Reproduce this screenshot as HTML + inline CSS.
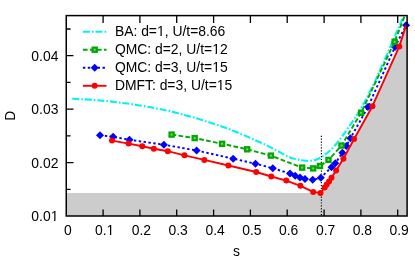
<!DOCTYPE html>
<html><head><meta charset="utf-8"><title>plot</title>
<style>
html,body{margin:0;padding:0;background:#fff;}
body{width:415px;height:261px;overflow:hidden;font-family:"Liberation Sans",sans-serif;}
svg{display:block;will-change:transform;opacity:0.999;}
text{font-family:"Liberation Sans",sans-serif;font-size:13.9px;fill:#000;}
</style></head><body>
<svg width="415" height="261" viewBox="0 0 415 261">
<defs><clipPath id="c"><rect x="66" y="15.5" width="341" height="200.8"/></clipPath></defs>
<rect width="415" height="261" fill="#fff"/>
<polygon points="66.2,193.0 320.7,193.0 324.7,187.5 326.7,184.6 329.0,181.6 331.5,177.8 336.1,170.4 343.4,158.7 354.1,139.0 372.4,106.2 399.3,46.4 406.1,25.4 407.1,25.2 407.1,216.0 66.2,216.0" fill="#cccccc" clip-path="url(#c)"/>
<path d="M103.1,216.0 v-6.6 M103.1,15.6 v7.3 M139.9,216.0 v-6.6 M139.9,15.6 v7.3 M176.7,216.0 v-6.6 M176.7,15.6 v7.3 M213.6,216.0 v-6.6 M213.6,15.6 v7.3 M250.4,216.0 v-6.6 M250.4,15.6 v7.3 M287.2,216.0 v-6.6 M287.2,15.6 v7.3 M324.1,216.0 v-6.6 M324.1,15.6 v7.3 M360.9,216.0 v-6.6 M360.9,15.6 v7.3 M397.7,216.0 v-6.6 M397.7,15.6 v7.3 M66.25,162.6 h7.2 M66.25,109.1 h7.2 M66.25,55.7 h7.2 M66.25,189.3 h4.3 M66.25,135.9 h4.3 M66.25,82.4 h4.3 M66.25,29.0 h4.3" stroke="#000" stroke-width="1.3" fill="none"/>
<line x1="321.4" y1="135.7" x2="321.4" y2="216.0" stroke="#000" stroke-width="1.15" stroke-dasharray="1.2 1.7"/>
<g clip-path="url(#c)" fill="none" stroke-linejoin="round"><polyline points="72.2,98.8 90.0,99.6 110.0,101.4 130.0,103.9 150.0,107.1 170.0,111.1 190.0,116.4 210.0,122.5 230.0,129.3 250.0,137.8 265.3,144.6 275.0,149.6 280.6,152.6 286.0,155.6 290.0,157.4 294.0,158.7 301.3,160.3 309.0,161.0 314.6,160.2 318.5,158.8 322.8,156.3 327.3,153.0 331.0,149.7 333.6,147.0 336.6,143.5 341.0,138.0 345.2,132.2 349.5,126.0 353.6,120.0 358.0,113.2 365.8,100.0 375.5,80.5 384.5,60.0 392.4,42.0 403.3,16.7 407.5,6.9" stroke="#00f4f4" stroke-width="2.1" stroke-dasharray="7 2.1 1.6 1.9"/>
<polyline points="100.0,135.2 113.1,136.8 129.5,139.8 163.9,144.7 196.6,150.5 233.2,158.7 255.5,163.7 272.8,168.2 290.0,173.6 295.2,175.8 300.0,177.6 305.0,179.1 312.7,179.8 320.8,177.8 331.5,167.2 335.3,163.3 342.4,152.8 346.4,146.0 350.4,138.3 367.9,107.1 395.0,46.9 406.1,25.3" stroke="#0000ff" stroke-width="1.9" stroke-dasharray="2.4 2.5"/></g>
<g><path d="M100.0,131.2 l4,4 l-4,4 l-4,-4z" fill="#0000ff"/><path d="M113.1,132.8 l4,4 l-4,4 l-4,-4z" fill="#0000ff"/><path d="M129.5,135.8 l4,4 l-4,4 l-4,-4z" fill="#0000ff"/><path d="M163.9,140.7 l4,4 l-4,4 l-4,-4z" fill="#0000ff"/><path d="M196.6,146.5 l4,4 l-4,4 l-4,-4z" fill="#0000ff"/><path d="M233.2,154.7 l4,4 l-4,4 l-4,-4z" fill="#0000ff"/><path d="M255.5,159.7 l4,4 l-4,4 l-4,-4z" fill="#0000ff"/><path d="M272.8,164.2 l4,4 l-4,4 l-4,-4z" fill="#0000ff"/><path d="M290.0,169.6 l4,4 l-4,4 l-4,-4z" fill="#0000ff"/><path d="M295.2,171.8 l4,4 l-4,4 l-4,-4z" fill="#0000ff"/><path d="M300.0,173.6 l4,4 l-4,4 l-4,-4z" fill="#0000ff"/><path d="M305.0,175.1 l4,4 l-4,4 l-4,-4z" fill="#0000ff"/><path d="M312.7,175.8 l4,4 l-4,4 l-4,-4z" fill="#0000ff"/><path d="M320.8,173.8 l4,4 l-4,4 l-4,-4z" fill="#0000ff"/><path d="M331.5,163.2 l4,4 l-4,4 l-4,-4z" fill="#0000ff"/><path d="M335.3,159.3 l4,4 l-4,4 l-4,-4z" fill="#0000ff"/><path d="M342.4,148.8 l4,4 l-4,4 l-4,-4z" fill="#0000ff"/><path d="M346.4,142.0 l4,4 l-4,4 l-4,-4z" fill="#0000ff"/><path d="M350.4,134.3 l4,4 l-4,4 l-4,-4z" fill="#0000ff"/><path d="M367.9,103.1 l4,4 l-4,4 l-4,-4z" fill="#0000ff"/><path d="M395.0,42.9 l4,4 l-4,4 l-4,-4z" fill="#0000ff"/><path d="M406.1,21.3 l4,4 l-4,4 l-4,-4z" fill="#0000ff"/></g>
<g clip-path="url(#c)" fill="none" stroke-linejoin="round"><polyline points="171.6,134.6 194.7,138.1 222.1,143.8 247.2,149.3 270.9,155.6 302.2,167.6 313.2,168.4 320.0,166.0 328.5,159.9 341.5,145.6 361.1,112.8 394.6,41.8 407.5,8.9" stroke="#00a800" stroke-width="1.9" stroke-dasharray="4.7 2.3"/></g>
<g><rect x="169.5" y="132.5" width="4.2" height="4.2" fill="#70d470" stroke="#00a800" stroke-width="2.2"/><rect x="192.6" y="136.0" width="4.2" height="4.2" fill="#70d470" stroke="#00a800" stroke-width="2.2"/><rect x="220.0" y="141.7" width="4.2" height="4.2" fill="#70d470" stroke="#00a800" stroke-width="2.2"/><rect x="245.1" y="147.2" width="4.2" height="4.2" fill="#70d470" stroke="#00a800" stroke-width="2.2"/><rect x="268.8" y="153.5" width="4.2" height="4.2" fill="#70d470" stroke="#00a800" stroke-width="2.2"/><rect x="300.1" y="165.5" width="4.2" height="4.2" fill="#70d470" stroke="#00a800" stroke-width="2.2"/><rect x="311.1" y="166.3" width="4.2" height="4.2" fill="#70d470" stroke="#00a800" stroke-width="2.2"/><rect x="317.9" y="163.9" width="4.2" height="4.2" fill="#70d470" stroke="#00a800" stroke-width="2.2"/><rect x="326.4" y="157.8" width="4.2" height="4.2" fill="#70d470" stroke="#00a800" stroke-width="2.2"/><rect x="339.4" y="143.5" width="4.2" height="4.2" fill="#70d470" stroke="#00a800" stroke-width="2.2"/><rect x="359.0" y="110.7" width="4.2" height="4.2" fill="#70d470" stroke="#00a800" stroke-width="2.2"/><rect x="392.5" y="39.7" width="4.2" height="4.2" fill="#70d470" stroke="#00a800" stroke-width="2.2"/></g>
<g clip-path="url(#c)" fill="none" stroke-linejoin="round"><polyline points="112.0,140.6 128.6,143.6 142.3,146.3 153.8,148.7 167.8,151.2 184.5,155.3 204.3,159.9 228.4,165.5 256.2,172.0 271.3,176.5 286.3,180.6 300.4,185.8 313.2,191.9 320.5,192.9 324.7,187.5 326.7,184.6 329.0,181.6 331.5,177.8 336.1,170.4 343.4,158.7 354.1,139.0 372.4,106.2 399.3,46.4 406.1,25.4" stroke="#ff0000" stroke-width="1.9"/></g>
<g><circle cx="112.0" cy="140.6" r="3.0" fill="#ff0000"/><circle cx="128.6" cy="143.6" r="3.0" fill="#ff0000"/><circle cx="142.3" cy="146.3" r="3.0" fill="#ff0000"/><circle cx="153.8" cy="148.7" r="3.0" fill="#ff0000"/><circle cx="167.8" cy="151.2" r="3.0" fill="#ff0000"/><circle cx="184.5" cy="155.3" r="3.0" fill="#ff0000"/><circle cx="204.3" cy="159.9" r="3.0" fill="#ff0000"/><circle cx="228.4" cy="165.5" r="3.0" fill="#ff0000"/><circle cx="256.2" cy="172.0" r="3.0" fill="#ff0000"/><circle cx="271.3" cy="176.5" r="3.0" fill="#ff0000"/><circle cx="286.3" cy="180.6" r="3.0" fill="#ff0000"/><circle cx="300.4" cy="185.8" r="3.0" fill="#ff0000"/><circle cx="313.2" cy="191.9" r="3.0" fill="#ff0000"/><circle cx="320.5" cy="192.9" r="3.0" fill="#ff0000"/><circle cx="324.7" cy="187.5" r="3.0" fill="#ff0000"/><circle cx="326.7" cy="184.6" r="3.0" fill="#ff0000"/><circle cx="329.0" cy="181.6" r="3.0" fill="#ff0000"/><circle cx="331.5" cy="177.8" r="3.0" fill="#ff0000"/><circle cx="336.1" cy="170.4" r="3.0" fill="#ff0000"/><circle cx="343.4" cy="158.7" r="3.0" fill="#ff0000"/><circle cx="354.1" cy="139.0" r="3.0" fill="#ff0000"/><circle cx="372.4" cy="106.2" r="3.0" fill="#ff0000"/><circle cx="399.3" cy="46.4" r="3.0" fill="#ff0000"/></g>
<rect x="66.25" y="15.6" width="340.85" height="200.4" fill="none" stroke="#000" stroke-width="1.5"/>
<line x1="82.9" y1="31.8" x2="106.5" y2="31.8" stroke="#00f4f4" stroke-width="2.1" stroke-dasharray="7 2.1 1.6 1.9"/>
<line x1="82.9" y1="49.7" x2="106.5" y2="49.7" stroke="#00a800" stroke-width="1.9" stroke-dasharray="4.7 2.3"/><rect x="92.6" y="47.6" width="4.2" height="4.2" fill="#70d470" stroke="#00a800" stroke-width="2.2"/>
<line x1="82.9" y1="67.8" x2="106.5" y2="67.8" stroke="#0000ff" stroke-width="1.9" stroke-dasharray="2.4 2.5"/><path d="M94.7,63.8 l4,4 l-4,4 l-4,-4z" fill="#0000ff"/>
<line x1="82.9" y1="85.8" x2="106.5" y2="85.8" stroke="#ff0000" stroke-width="1.9"/><circle cx="94.7" cy="85.8" r="3.0" fill="#ff0000"/>
<text x="114.9" y="36.4">BA: d=1, U/t=8.66</text>
<text x="114.9" y="54.3">QMC: d=2, U/t=12</text>
<text x="114.9" y="72.4">QMC: d=3, U/t=15</text>
<text x="114.9" y="90.4">DMFT: d=3, U/t=15</text>
<text x="67.8" y="235.3" text-anchor="middle">0</text>
<text x="104.6" y="235.3" text-anchor="middle">0.1</text>
<text x="141.4" y="235.3" text-anchor="middle">0.2</text>
<text x="178.2" y="235.3" text-anchor="middle">0.3</text>
<text x="215.1" y="235.3" text-anchor="middle">0.4</text>
<text x="251.9" y="235.3" text-anchor="middle">0.5</text>
<text x="288.7" y="235.3" text-anchor="middle">0.6</text>
<text x="325.6" y="235.3" text-anchor="middle">0.7</text>
<text x="362.4" y="235.3" text-anchor="middle">0.8</text>
<text x="399.2" y="235.3" text-anchor="middle">0.9</text>
<text x="58.4" y="221.3" text-anchor="end">0.01</text>
<text x="58.4" y="167.9" text-anchor="end">0.02</text>
<text x="58.4" y="114.4" text-anchor="end">0.03</text>
<text x="58.4" y="61.0" text-anchor="end">0.04</text>
<text x="236.4" y="256" text-anchor="middle">s</text>
<text transform="translate(14.8,115.8) rotate(-90)" text-anchor="middle">D</text>
<path d="M157.38,35.10 h3.05 v1.8 h-3.05z M161.70,35.10 h2.9 v1.8 h-2.9z M212.57,53.00 h3.05 v1.8 h-3.05z M216.89,53.00 h2.9 v1.8 h-2.9z M212.57,71.10 h3.05 v1.8 h-3.05z M216.89,71.10 h2.9 v1.8 h-2.9z M217.19,89.10 h3.05 v1.8 h-3.05z M221.51,89.10 h2.9 v1.8 h-2.9z M106.92,234.00 h3.05 v1.8 h-3.05z M111.24,234.00 h2.9 v1.8 h-2.9z M51.05,220.00 h3.05 v1.8 h-3.05z M55.37,220.00 h2.9 v1.8 h-2.9z" fill="#fff"/>
</svg></body></html>
